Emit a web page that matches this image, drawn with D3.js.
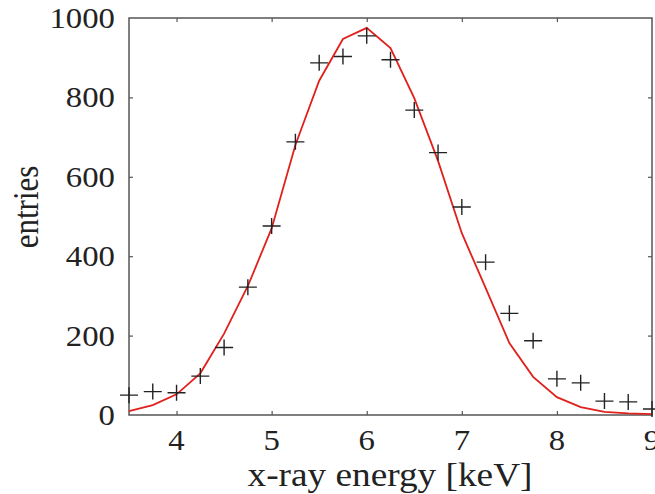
<!DOCTYPE html>
<meta charset="utf-8">
<style>
    body { margin: 0; background: #fff; }
    text { font-family: "Liberation Serif", "DejaVu Serif", serif; fill: #222; }
    .frame { fill: none; stroke: #555; stroke-width: 1.5; }
    .tick line { stroke: #555; stroke-width: 1.2; }
    .fit { fill: none; stroke: #e0201c; stroke-width: 1.8; }
    .data path { stroke: #222; stroke-width: 1.4; fill: none; }
</style>

<svg width="655" height="494"></svg>

<script src="https://d3js.org/d3.v7.min.js"></script>
<script>
var energy = [3.5, 3.75, 4, 4.25, 4.5, 4.75, 5, 5.25, 5.5, 5.75, 6, 6.25,
              6.5, 6.75, 7, 7.25, 7.5, 7.75, 8, 8.25, 8.5, 8.75, 9];
var entries = [50, 59, 56, 98, 170, 322, 476, 688, 887, 903, 955, 895,
               768, 661, 524, 385, 256, 187, 91, 81, 35, 33, 15];
var fitted = [10, 25, 52, 105, 205, 325, 470, 680, 842, 947, 975, 924,
              798, 640, 458, 320, 181, 96, 45, 20, 8, 4, 2];
var xTicks = [4, 5, 6, 7, 8, 9];
var yTicks = [0, 200, 400, 600, 800, 1000];

var svg = d3.select("svg");
var pLeft = 129, pRight = 652, pTop = 18, pBottom = 415;
var stretch = 1.13; // the original picture is a bit wider than tall

var x = d3.scaleLinear().domain([3.5, 9]).range([pLeft, pRight]);
var y = d3.scaleLinear().domain([0, 1000]).range([pBottom, pTop]);

// ticks on all four sides, pointing inward
function ticks(axis, pos, vals) {
    svg.append("g")
        .attr("transform", pos)
        .call(axis.tickValues(vals).tickSize(-4).tickFormat(""))
        .call(function(g) { g.select(".domain").remove(); });
}
ticks(d3.axisBottom(x), "translate(0," + pBottom + ")", xTicks.slice(0, 5));
ticks(d3.axisTop(x), "translate(0," + pTop + ")", xTicks.slice(0, 5));
ticks(d3.axisLeft(y), "translate(" + pLeft + ",0)", yTicks.slice(1, 5));
ticks(d3.axisRight(y), "translate(" + pRight + ",0)", yTicks.slice(1, 5));

svg.append("rect").attr("class", "frame")
    .attr("x", pLeft).attr("y", pTop)
    .attr("width", pRight - pLeft).attr("height", pBottom - pTop);

function at(px, py) {
    return "translate(" + px + "," + py + ") scale(" + stretch + ",1)";
}

svg.append("g").selectAll("text")
    .data(xTicks).enter().append("text")
    .attr("transform", function(d) { return at(x(d), 450); })
    .attr("text-anchor", "middle")
    .attr("font-size", 29)
    .text(function(d) { return d; });

svg.append("g").selectAll("text")
    .data(yTicks).enter().append("text")
    .attr("transform", function(d) { return at(115, y(d) + 10); })
    .attr("text-anchor", "end")
    .attr("font-size", 29)
    .text(function(d) { return d; });

svg.append("text")
    .attr("transform", at(390, 486))
    .attr("text-anchor", "middle")
    .attr("font-size", 33)
    .text("x-ray energy [keV]");

svg.append("text")
    .attr("transform", "translate(38,207) rotate(-90) scale(1," + stretch + ")")
    .attr("text-anchor", "middle")
    .attr("font-size", 31)
    .text("entries");

var line = d3.line()
    .x(function(d, i) { return x(energy[i]); })
    .y(function(d) { return y(d); });

svg.append("path").attr("class", "fit")
    .datum(fitted)
    .attr("d", line);

svg.append("g").attr("class", "data")
    .selectAll("path")
    .data(entries).enter().append("path")
    .attr("d", function(d, i) {
        var cx = x(energy[i]), cy = y(d);
        return "M" + (cx - 9) + "," + cy + "H" + (cx + 9) +
               "M" + cx + "," + (cy - 8) + "V" + (cy + 8);
    });
</script>
